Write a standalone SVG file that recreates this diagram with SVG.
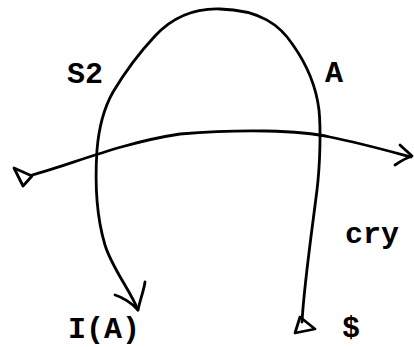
<svg xmlns="http://www.w3.org/2000/svg" width="414" height="347" viewBox="0 0 414 347">
<style>
.ln{fill:none;stroke:#000;stroke-width:2.8;stroke-linecap:round;stroke-linejoin:round}
.lb{font-family:"Liberation Mono","Courier New",monospace;font-size:30px;font-weight:bold;fill:#000}
</style>
<rect width="414" height="347" fill="#fff"/>
<g id="connectors">
<path class="ln" d="M302,322 C304,285 312,230 317,190 C320,165 321,130 319,110 C316,85 305,62 293,45 C280,25 260,10 220,9 C190,8 170,20 155,36 C140,52 125,72 113,92 C104,108 99,125 97,150 C95,180 96,215 105,245 C112,268 130,290 138,310"/>
<path class="ln" d="M145,282 C144,290 140,300 138,310 M115,295 C122,297 132,303 138,310"/>
<path class="ln" d="M300,317 L295,333 L315,329 Z"/>
<path class="ln" d="M32,175 C70,165 120,143 180,134 C240,129 300,130 330,137 C360,143 385,150 411,157"/>
<path class="ln" d="M400,145 C404,149 408,152 412,156 M395,165 C401,161 406,158 412,156"/>
<path class="ln" d="M14,168 L23,186 L32,176 Z"/>
</g>
<g id="S2"><text class="lb" x="67" y="83">S2</text></g>
<g id="A"><text class="lb" x="334" y="82" text-anchor="middle">A</text></g>
<g id="cry"><text class="lb" x="372" y="243" text-anchor="middle">cry</text></g>
<g id="IA"><text class="lb" x="104" y="338" text-anchor="middle">I(A)</text></g>
<g id="S"><text class="lb" x="351" y="337" text-anchor="middle">$</text></g>
</svg>
